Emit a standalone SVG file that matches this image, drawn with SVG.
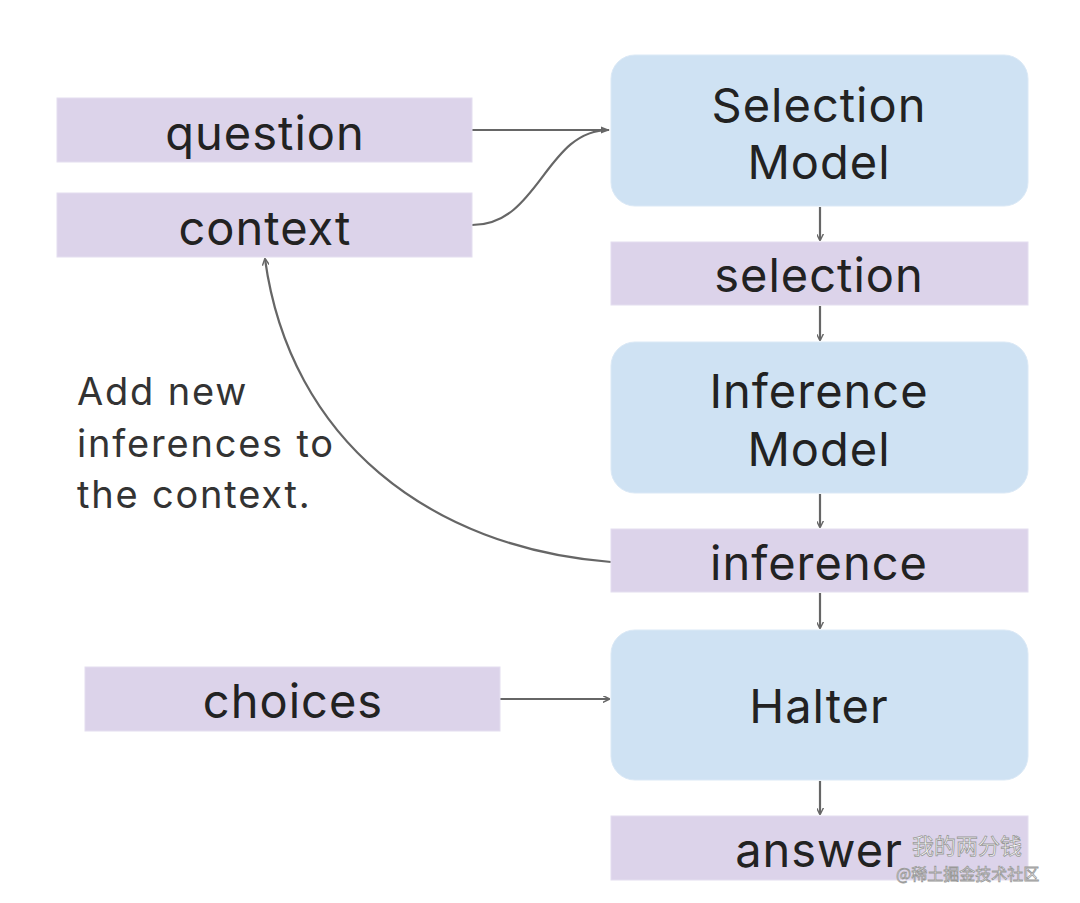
<svg xmlns="http://www.w3.org/2000/svg" width="1080" height="903" viewBox="0 0 1080 903">
<style>
.data{fill:#dcd3ea;stroke:#e4def0;stroke-width:1}
.model{fill:#cfe2f3;stroke:#dbe9f6;stroke-width:1}
.lbl{font-family:Inter,"Noto Sans",sans-serif;font-size:47px;letter-spacing:1px;fill:#222;text-anchor:middle}
.note{font-family:Inter,"Noto Sans",sans-serif;font-size:38px;letter-spacing:1.8px;fill:#333}
.conn{fill:none;stroke:#666;stroke-width:2.2}
.wm{font-family:"Noto Sans CJK SC",sans-serif;fill:#fff;stroke:#999;stroke-width:0.8}
</style>
<defs>
<marker id="ah" viewBox="0 0 10 10" refX="9" refY="5" markerWidth="7" markerHeight="7" markerUnits="userSpaceOnUse" orient="auto">
<path d="M0,0 L10,5 L0,10" fill="none" stroke="#666" stroke-width="2"/>
</marker>
<marker id="ahf" viewBox="0 0 10 10" refX="9" refY="5" markerWidth="9" markerHeight="9" markerUnits="userSpaceOnUse" orient="auto">
<path d="M0,1 L10,5 L0,9 Z" fill="#666"/>
</marker>
</defs>
<rect width="1080" height="903" fill="#fff"/>
<g id="connectors">
<path class="conn" d="M472,130 L609,130" marker-end="url(#ahf)"/>
<path class="conn" d="M472,225 C540,225 545,130 609,130"/>
<path class="conn" d="M820,207 L820,240" marker-end="url(#ah)"/>
<path class="conn" d="M820,306 L820,340" marker-end="url(#ah)"/>
<path class="conn" d="M820,494 L820,527" marker-end="url(#ah)"/>
<path class="conn" d="M820,593 L820,628" marker-end="url(#ah)"/>
<path class="conn" d="M820,781 L820,814" marker-end="url(#ah)"/>
<path class="conn" d="M611,562 C430,548 290,440 265,259" marker-end="url(#ah)"/>
<path class="conn" d="M500,699 L609,699" marker-end="url(#ah)"/>
</g>
<g id="question"><rect class="data" x="57" y="98" width="415" height="64"/><text class="lbl" x="265" y="150">question</text></g>
<g id="context"><rect class="data" x="57" y="193" width="415" height="64"/><text class="lbl" x="265" y="245">context</text></g>
<g id="selection-model"><rect class="model" x="611" y="55" width="417" height="151" rx="24"/><text class="lbl" x="819" y="122">Selection</text><text class="lbl" x="819" y="179">Model</text></g>
<g id="selection"><rect class="data" x="611" y="242" width="417" height="63"/><text class="lbl" x="819" y="292">selection</text></g>
<g id="inference-model"><rect class="model" x="611" y="342" width="417" height="151" rx="24"/><text class="lbl" x="819" y="408">Inference</text><text class="lbl" x="819" y="466">Model</text></g>
<g id="inference"><rect class="data" x="611" y="529" width="417" height="63"/><text class="lbl" x="819" y="580">inference</text></g>
<g id="halter"><rect class="model" x="611" y="630" width="417" height="150" rx="24"/><text class="lbl" x="819" y="723">Halter</text></g>
<g id="answer"><rect class="data" x="611" y="816" width="417" height="64"/><text class="lbl" x="819" y="867">answer</text></g>
<g id="choices"><rect class="data" x="85" y="667" width="415" height="64"/><text class="lbl" x="293" y="718">choices</text></g>
<g id="note"><text class="note" x="77" y="405">Add new</text><text class="note" x="77" y="457">inferences to</text><text class="note" x="77" y="508">the context.</text></g>
<g id="watermark"><text class="wm" x="912" y="854" font-size="22">我的两分钱</text><text class="wm" x="896" y="880" font-size="16">@稀土掘金技术社区</text></g>
</svg>
